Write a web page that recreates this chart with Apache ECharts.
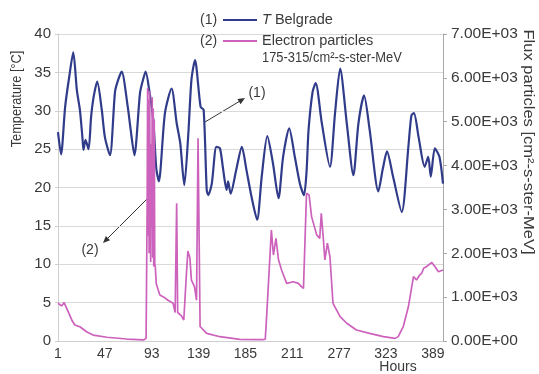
<!DOCTYPE html>
<html>
<head>
<meta charset="utf-8">
<script src="https://cdn.jsdelivr.net/npm/echarts@6/dist/echarts.min.js"></script>
<style>
html,body{margin:0;padding:0;background:#fff;}
#chart{width:539px;height:374px;}
</style>
</head>
<body>
<div id="chart"></div>
<script>
// x positions are hour offsets from the first sample (0 = hour 1)
var tempHours = [0,3,7,11,15,18.5,21.5,24,25,27,30,32.5,35,38.5,43,46,51,56,59,62.5,68.5,71,75,80.5,83,86,90,93.5,96.5,99,105,111.5,116.5,120,124,128,131,134.5,140,143,146,147.5,151,155.5,159,162,165.5,167,169.5,175,180.5,185,190,195.5,200,205.5,211,216.5,221,227,232.5,237.5,241.5,244,246,250,253,259,267,272,277,283.5,290,295,300.5,306,314.5,319,323,329,337.5,344,347,349.5,354,360,363.5,366,370,374.5,378];
var tempValues = [27.2,24.3,30.5,34.4,37.6,32.7,30.1,26.5,24.9,26.2,25.0,29.2,31.8,33.8,30.1,26.6,24.2,32.5,34.0,35.1,30.5,27.9,24.2,32.3,33.8,35.1,32.3,28.8,22.5,20.8,29.7,32.9,28.4,25.8,20.3,27.1,34.0,36.6,30.5,30.1,19.7,19.0,20.5,25.3,25.1,22.5,19.7,20.8,19.2,22.3,25.3,22.3,18.8,15.8,21.4,26.7,23.2,18.6,24.0,27.7,24.0,20.5,19.0,22.0,27.5,32.5,33.6,28.4,22.7,29.7,35.5,28.4,21.6,28.4,32.0,27.5,19.5,22.5,24.7,21.4,16.8,25.3,29.4,29.7,26.6,22.7,24.0,21.4,25.1,24.0,20.5];

var fluxHours = [0,3.5,6,10,13.5,16.5,21.5,28,34.5,48,67.5,84,86.5,87.5,88,88.5,89,89.5,90,90.5,91,91.5,92,92.5,93,93.5,94,94.5,95,95.5,96.5,100,104,108,113,115,116.5,117.5,121,123.5,126,127.5,129.5,131,134,136,137.5,139.5,146,159,178.5,201,203.5,205,209.5,211.5,214,216.5,219.5,224.5,231,236,239,241,244,246.5,249,254,257,258.5,260.5,262,264.5,267,270,277,283.5,293,306,319.5,331,334,339,344,349,352,355,357,359,362,367,370,373.5,378];
var fluxValues = [860,800,875,670,480,365,325,210,135,85,45,25,60,3000,5770,2400,5500,2000,5700,3000,1800,4500,2600,5560,1900,5300,1700,5050,1750,1700,1300,1050,1000,930,860,650,3140,650,580,480,1500,2050,1890,1390,1240,930,4620,330,175,98,39,30,40,630,2530,1960,2340,1850,1620,1315,1350,1315,1240,1200,3370,3330,2830,2420,2340,2910,2340,1850,2230,1920,860,555,405,250,175,100,60,100,330,780,1470,1390,1500,1540,1660,1700,1790,1700,1580,1620];

var xTickLabels = ['1','47','93','139','185','211','277','323','389'];
var rightTickLabels = ['0.00E+00','1.00E+03','2.00E+03','3.00E+03','4.00E+03','5.00E+03','6.00E+03','7.00E+03'];

var tempData = tempHours.map(function(h,i){return [h,tempValues[i]];});
var fluxData = fluxHours.map(function(h,i){return [h,fluxValues[i]];});

var FONT = '"Liberation Sans", Arial, Helvetica, sans-serif';
var TXT = '#3a3a3a';

function arrow(x1,y1,x2,y2){
  var dx=x2-x1, dy=y2-y1, L=Math.sqrt(dx*dx+dy*dy); dx/=L; dy/=L;
  var hl=7, hw=3, bx=x2-hl*dx, by=y2-hl*dy;
  return [
    {type:'line', shape:{x1:x1,y1:y1,x2:bx,y2:by}, style:{stroke:'#333',lineWidth:1}},
    {type:'polygon', shape:{points:[[x2,y2],[bx-hw*dy,by+hw*dx],[bx+hw*dy,by-hw*dx]]}, style:{fill:'#333'}}
  ];
}

function txt(x,y,s,opts){
  opts = opts||{};
  var size = opts.size||14;
  var st = {text:s, x:0, y:0, font:size+'px '+FONT, fill:TXT,
    align:opts.align||'left', verticalAlign:'middle',
    textAlign:opts.align||'left', textVerticalAlign:'middle'};
  if(opts.rich){ st.rich = opts.rich; }
  return {type:'text', x:x, y:y, rotation:opts.rotation||0, scaleX:opts.scaleX||1, style:st, z:10};
}

var graphics = [
  txt(200,20,'(1)'),
  {type:'line', shape:{x1:223,y1:20,x2:257,y2:20}, style:{stroke:'#303c8a',lineWidth:2}},
  txt(262,20,'{i|T} Belgrade',{size:14.5,rich:{i:{fontStyle:'italic',fontSize:14.5,fontFamily:FONT,fill:TXT}}}),
  txt(200,41,'(2)'),
  {type:'line', shape:{x1:223,y1:41,x2:257,y2:41}, style:{stroke:'#cc62bc',lineWidth:2}},
  txt(262,41,'Electron particles',{size:14.5}),
  txt(262,58,'175-315/cm\u00B2-s-ster-MeV',{size:14.5,scaleX:0.89}),
  txt(257,93,'(1)',{align:'center'}),
  txt(90,250,'(2)',{align:'center'}),
  txt(398,367,'Hours',{align:'center'}),
  txt(17,99,'Temperature [\u00B0C]',{align:'center',rotation:Math.PI/2,size:14.5,scaleX:0.88}),
  txt(528,142,'Flux particles [cm\u00B2-s-ster-MeV]',{align:'center',rotation:-Math.PI/2,size:14.5,scaleX:1.14})
].concat(arrow(205,122,245,98)).concat(arrow(148,198,103,243));

var chart = echarts.init(document.getElementById('chart'), null, {renderer:'canvas'});
chart.setOption({
  animation:false,
  backgroundColor:'#fff',
  grid:{left:58, right:96, top:34, bottom:33, containLabel:false},
  xAxis:{
    type:'value', min:0, max:378, interval:46,
    axisLine:{show:true, lineStyle:{color:'#cfcfcf', width:1}},
    axisTick:{show:false},
    splitLine:{show:false},
    axisLabel:{
      color:TXT, fontSize:14, fontFamily:FONT, margin:6, showMaxLabel:false,
      formatter:function(v){ return (v%46===0) ? xTickLabels[v/46] : ''; }
    }
  },
  yAxis:[
    {type:'value', min:0, max:40, interval:5, position:'left',
     axisLine:{show:true, lineStyle:{color:'#cfcfcf'}},
     axisTick:{show:true, length:3, lineStyle:{color:'#cfcfcf'}},
     splitLine:{show:true, lineStyle:{color:'#d9d9d9', width:1}},
     axisLabel:{color:TXT, fontSize:15, fontFamily:FONT, margin:7}
    },
    {type:'value', min:0, max:7000, interval:1000, position:'right',
     axisLine:{show:true, lineStyle:{color:'#a8a8a8'}},
     axisTick:{show:true, length:4, lineStyle:{color:'#a8a8a8'}},
     splitLine:{show:false},
     axisLabel:{color:TXT, fontSize:15.5, fontFamily:FONT, margin:8,
       formatter:function(v){ return rightTickLabels[Math.round(v/1000)]; }}
    }
  ],
  series:[
    {name:'T Belgrade', type:'line', yAxisIndex:0, data:tempData, showSymbol:false, smooth:0.25,
     lineStyle:{color:'#303c8a', width:2.2}, z:2},
    {name:'Electron particles', type:'line', yAxisIndex:1, data:fluxData, showSymbol:false,
     lineStyle:{color:'#cc62bc', width:1.7}, z:3}
  ],
  graphic:graphics
});
</script>
</body>
</html>
